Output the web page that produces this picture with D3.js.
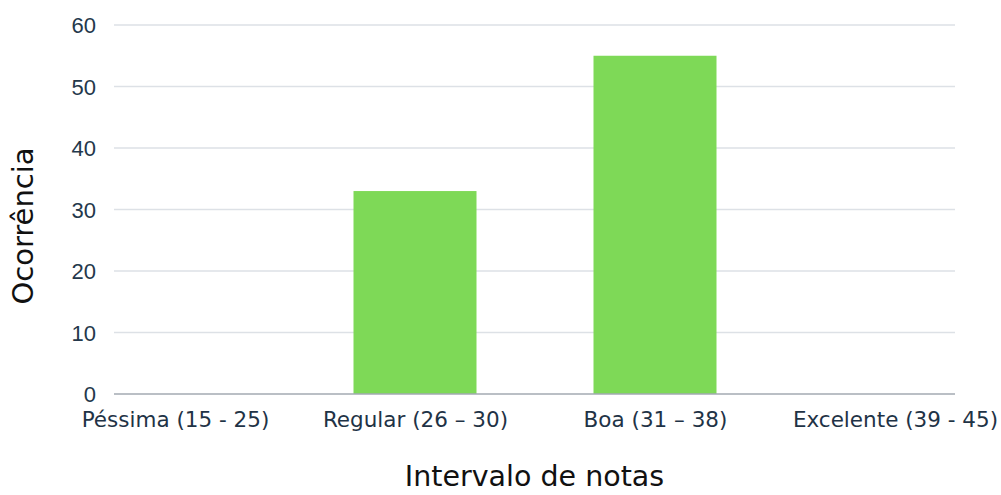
<!DOCTYPE html>
<html><head><meta charset="utf-8">
<script src="https://cdn.jsdelivr.net/npm/d3@7"></script>
<style>html,body{margin:0;padding:0;background:#fff;}svg{display:block;}</style>
</head><body>
<svg id="c" width="1001" height="495"></svg>
<script>
const categories = ["Péssima (15 - 25)", "Regular (26 – 30)", "Boa (31 – 38)", "Excelente (39 - 45)"];
const values = [0, 33, 55, 0];
const yTicks = [0, 10, 20, 30, 40, 50, 60];
const xTitle = "Intervalo de notas";
const yTitle = "Ocorrência";

const svg = d3.select("#c");
const plotLeft = 114, plotRight = 955, plotTop = 25, plotBottom = 394;

const x = d3.scalePoint().domain(categories).range([175, 895]);
const barW = 123;
const y = d3.scaleLinear().domain([0, 60]).range([plotBottom, plotTop]);

// gridlines
svg.append("g").selectAll("line").data(yTicks.filter(d => d !== 0)).join("line")
  .attr("x1", plotLeft).attr("x2", plotRight)
  .attr("y1", d => y(d)).attr("y2", d => y(d))
  .attr("stroke", "#dde1e6").attr("stroke-width", 1.3);

// y tick labels
const yAxis = d3.axisLeft(y).tickValues(yTicks).tickSize(0).tickPadding(0);
const ya = svg.append("g").attr("transform", `translate(${96},0)`).call(yAxis);
ya.select(".domain").remove();
ya.selectAll("text").attr("font-family", "Liberation Sans, Arial, sans-serif")
  .attr("font-size", 22).attr("fill", "#24384b").attr("dy", "0.35em");

// bars
svg.append("g").selectAll("rect").data(categories).join("rect")
  .attr("x", (d) => x(d) - barW / 2)
  .attr("width", barW)
  .attr("y", (d, i) => y(values[i]))
  .attr("height", (d, i) => y(0) - y(values[i]))
  .attr("fill", "#7ed957");

// baseline
svg.append("line").attr("x1", plotLeft).attr("x2", plotRight)
  .attr("y1", y(0)).attr("y2", y(0)).attr("stroke", "#a3aab2").attr("stroke-width", 1.5);

// x labels
const xAxis = d3.axisBottom(x).tickSize(0).tickPadding(0);
const xa = svg.append("g").attr("transform", `translate(0,${plotBottom})`).call(xAxis);
xa.select(".domain").remove();
xa.selectAll("text").attr("font-family", "DejaVu Sans, sans-serif")
  .attr("font-size", 21.5).attr("fill", "#1f3346").attr("dy", null).attr("y", 33);

// titles
svg.append("text").attr("x", (plotLeft + plotRight) / 2).attr("y", 486).attr("text-anchor", "middle")
  .attr("font-family", "DejaVu Sans, sans-serif").attr("font-size", 28.5).attr("fill", "#111")
  .text(xTitle);
svg.append("text").attr("transform", "translate(33,226) rotate(-90)").attr("text-anchor", "middle")
  .attr("font-family", "DejaVu Sans, sans-serif").attr("font-size", 29).attr("fill", "#111")
  .text(yTitle);
</script>
</body></html>
